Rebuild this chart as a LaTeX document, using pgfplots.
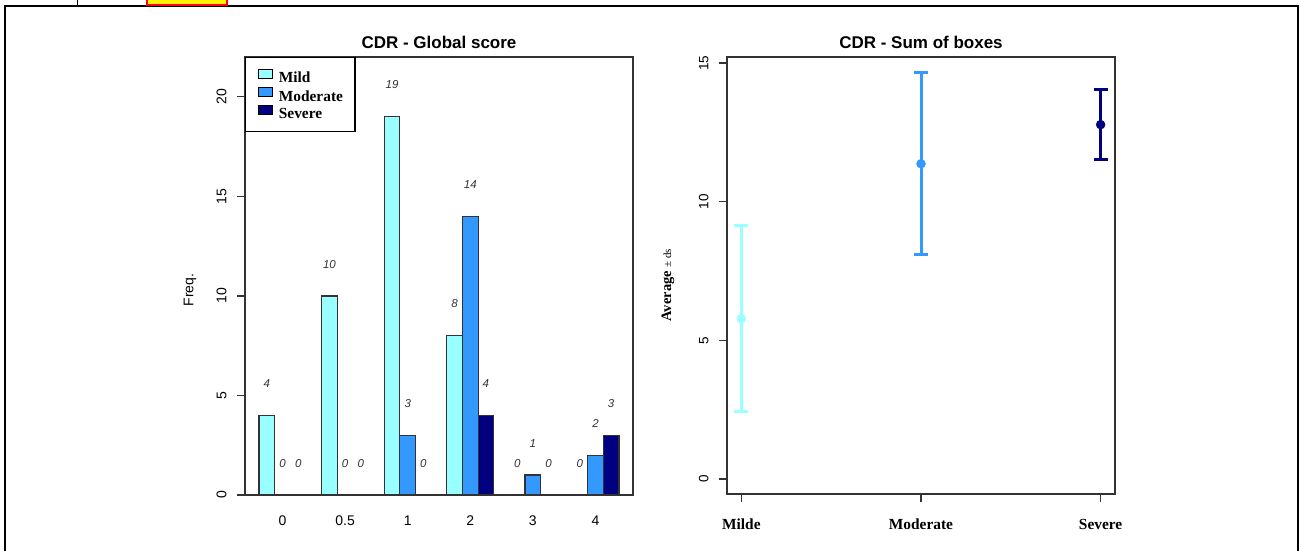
\documentclass[border=0pt]{standalone}
\usepackage{fontspec}
\setmainfont{Liberation Serif}
\setsansfont{Liberation Sans}
\usepackage{pgfplots}
\pgfplotsset{compat=1.18}
\definecolor{mildc}{HTML}{99FFFF}
\definecolor{modc}{HTML}{3399FF}
\definecolor{sevc}{HTML}{000080}
\definecolor{axc}{HTML}{333333}
\pgfplotsset{
  swatch/.style={legend image code/.code={\draw[##1, draw=black, line width=1.2pt] (0pt,0pt) rectangle (14pt,9pt);}},
  /pgf/number format/assume math mode=true,
}
\begin{document}
\begin{tikzpicture}
\path[use as bounding box] (0pt,0pt) rectangle (1300pt,551pt);
\draw[line width=2pt] (5pt,0pt) -- (5pt,545pt) -- (1298pt,545pt) -- (1298pt,0pt);
\draw[line width=1pt] (77pt,545pt) -- (77pt,551pt);
\draw[draw=red, fill=yellow, line width=2pt] (147pt,546pt) rectangle (227pt,553pt);

\begin{axis}[
  at={(245pt,56pt)}, anchor=south west, scale only axis,
  width=388pt, height=438pt,
  xmin=-0.6, xmax=5.6, ymin=0, ymax=22,
  axis line style={line width=1.3pt, color=axc},
  tick align=outside, major tick length=8pt,
  xtick={0,1,2,3,4,5}, xticklabels={0,0.5,1,2,3,4},
  x tick style={draw=none},
  ytick={0,5,10,15,20}, ytick pos=left,
  y tick style={line width=1.3pt, color=axc},
  xticklabel style={font=\sffamily\fontsize{14}{14}\selectfont, anchor=center, yshift=-18pt},
  yticklabel style={font=\sffamily\fontsize{14}{14}\selectfont, xshift=-7pt, rotate=90, anchor=south},
  title={CDR - Global score},
  every axis title/.style={at={(0.5,1)}, anchor=base, yshift=8pt, font=\sffamily\bfseries\fontsize{17}{17}\selectfont},
  ylabel={Freq.},
  every axis y label/.style={at={(axis description cs:-0.142,0.468)}, rotate=90, anchor=center, font=\sffamily\fontsize{14}{14}\selectfont},
  nodes near coords,
  nodes near coords style={font=\sffamily\itshape\fontsize{11.5}{11.5}\selectfont, anchor=center, yshift=31.8pt, color=axc},
  legend style={at={(0,1)}, anchor=north west, draw=black, line width=1.3pt,
    inner xsep=12pt, inner ysep=11pt, row sep=2.5pt, column sep=6pt,
    font=\bfseries\fontsize{15.4}{15.4}\selectfont,
    nodes={inner sep=0pt}},
  legend cell align=left,
]
\addplot[ybar, bar width=0.25, bar shift=-0.25, fill=mildc, draw=axc, line width=1.2pt, swatch,
  every node near coord/.append style={xshift=-15.65pt}]
  coordinates {(0,4) (1,10) (2,19) (3,8) (4,0) (5,0)};
\addplot[ybar, bar width=0.25, bar shift=0, fill=modc, draw=axc, line width=1.2pt, swatch]
  coordinates {(0,0) (1,0) (2,3) (3,14) (4,1) (5,2)};
\addplot[ybar, bar width=0.25, bar shift=0.25, fill=sevc, draw=axc, line width=1.2pt, swatch,
  every node near coord/.append style={xshift=15.65pt}]
  coordinates {(0,0) (1,0) (2,0) (3,4) (4,0) (5,3)};
\legend{Mild,Moderate,Severe}
\end{axis}

\begin{axis}[
  at={(727pt,57pt)}, anchor=south west, scale only axis,
  width=388pt, height=437pt,
  xmin=0.92, xmax=3.08, ymin=-0.54, ymax=15.22,
  axis line style={line width=1.3pt, color=axc},
  tick align=outside, major tick length=8pt,
  xtick={1,2,3}, xticklabels={Milde,Moderate,Severe},
  ytick={0,5,10,15},
  tick style={line width=1.3pt, color=axc},
  xtick pos=bottom, ytick pos=left,
  xticklabel style={font=\bfseries\fontsize{15.4}{15.4}\selectfont, anchor=center, yshift=-22pt},
  yticklabel style={font=\sffamily\fontsize{13.5}{13.5}\selectfont, xshift=-7pt, rotate=90, anchor=south},
  title={CDR - Sum of boxes},
  every axis title/.style={at={(0.5,1)}, anchor=base, yshift=8pt, font=\sffamily\bfseries\fontsize{17}{17}\selectfont},
  ylabel={\textbf{Average} {\fontsize{11}{11}\selectfont ± ds}},
  every axis y label/.style={at={(axis description cs:-0.152,0.478)}, rotate=90, anchor=center, font=\fontsize{14.5}{14.5}\selectfont},
]
\addplot[only marks, mark=*, mark size=4.5pt, color=mildc,
  error bars/.cd, y dir=both, y explicit,
  error bar style={line width=3pt, color=mildc},
  error mark options={rotate=90, mark size=7pt, line width=3pt, color=mildc}]
  coordinates {(1,5.78) +- (0,3.35)};
\addplot[only marks, mark=*, mark size=4.5pt, color=modc,
  error bars/.cd, y dir=both, y explicit,
  error bar style={line width=3pt, color=modc},
  error mark options={rotate=90, mark size=7pt, line width=3pt, color=modc}]
  coordinates {(2,11.37) +- (0,3.29)};
\addplot[only marks, mark=*, mark size=4.5pt, color=sevc,
  error bars/.cd, y dir=both, y explicit,
  error bar style={line width=3pt, color=sevc},
  error mark options={rotate=90, mark size=7pt, line width=3pt, color=sevc}]
  coordinates {(3,12.78) +- (0,1.25)};
\end{axis}
\end{tikzpicture}
\end{document}
